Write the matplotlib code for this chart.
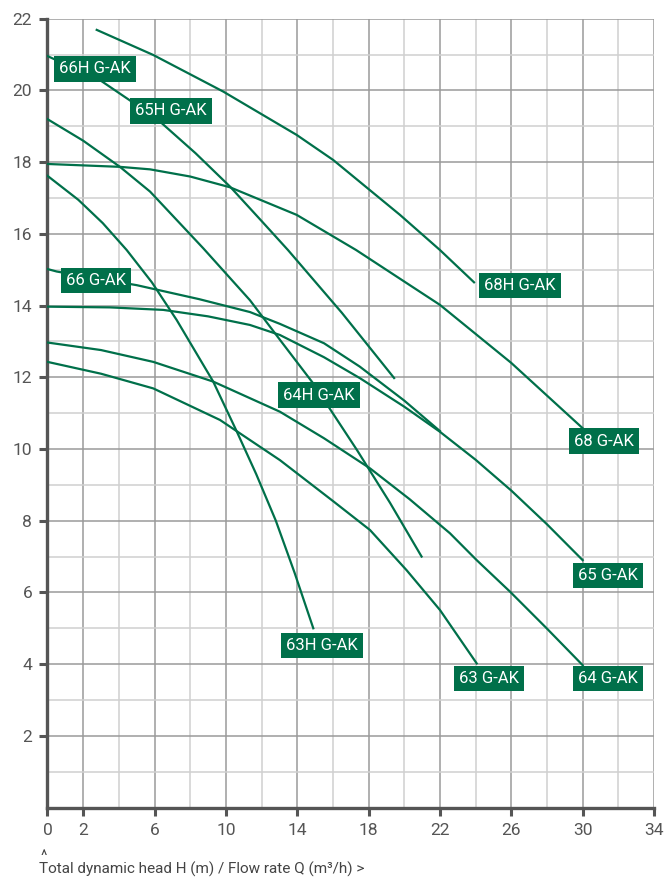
import matplotlib.pyplot as plt
import numpy as np

# lecture des courbes sur le graphique (Q en m3/h, H en m)
q_68H = [2.76, 5.93, 9.85, 13.97, 16.02, 19.76, 22.0, 23.91]
h_68H = [21.69, 20.99, 19.97, 18.76, 18.06, 16.53, 15.55, 14.65]

q_66H = [0, 2.94, 4.6, 6.31, 8.3, 10.23, 12.0, 13.48, 16.5, 19.43]
h_66H = [20.96, 20.29, 19.73, 19.13, 18.25, 17.32, 16.36, 15.55, 13.8, 11.98]

q_65H = [0, 2.0, 4.06, 5.75, 8.73, 11.35, 13.1, 14.88, 17.35, 19.2, 20.97]
h_65H = [19.2, 18.6, 17.87, 17.18, 15.6, 14.15, 13.0, 11.84, 9.97, 8.5, 7.0]

q_68 = [0, 4.06, 5.75, 8.0, 10.23, 13.97, 17.3, 22.0, 26.0, 30.0]
h_68 = [17.95, 17.87, 17.8, 17.6, 17.3, 16.53, 15.55, 14.02, 12.4, 10.58]

q_66 = [0, 0.52, 5.0, 8.5, 11.35, 13.03, 15.5, 17.5, 20.0, 22.0]
h_66 = [15.02, 14.95, 14.57, 14.18, 13.82, 13.49, 12.95, 12.3, 11.35, 10.5]

q_65 = [0, 3.5, 6.49, 9.0, 11.35, 13.03, 15.5, 17.5, 20.0, 22.0, 24.0, 26.0, 28.0, 30.0]
h_65 = [13.97, 13.95, 13.88, 13.7, 13.46, 13.18, 12.56, 11.98, 11.18, 10.48, 9.7, 8.84, 7.9, 6.9]

q_64 = [0, 3.0, 5.93, 9.29, 13.03, 15.5, 18.08, 20.3, 22.56, 24.06, 25.93, 27.98, 30.0]
h_64 = [12.97, 12.76, 12.43, 11.88, 11.04, 10.3, 9.46, 8.6, 7.65, 6.9, 6.02, 5.0, 3.97]

q_63 = [0, 3.0, 5.93, 9.67, 13.03, 16.0, 18.08, 20.13, 22.0, 24.06]
h_63 = [12.43, 12.1, 11.69, 10.81, 9.69, 8.55, 7.74, 6.62, 5.51, 4.02]

q_63H = [0, 1.73, 3.1, 4.44, 5.85, 7.24, 9.29, 10.6, 11.7, 12.8, 13.85, 14.9]
h_63H = [17.62, 16.95, 16.3, 15.55, 14.65, 13.6, 11.88, 10.5, 9.3, 8.0, 6.55, 5.0]

courbes = [(q_68H, h_68H), (q_66H, h_66H), (q_65H, h_65H), (q_68, h_68),
           (q_66, h_66), (q_65, h_65), (q_64, h_64), (q_63, h_63), (q_63H, h_63H)]

# etiquettes : texte, Q, H
noms = ['66H G-AK', '65H G-AK', '68H G-AK', '66 G-AK', '64H G-AK',
        '68 G-AK', '65 G-AK', '63H G-AK', '63 G-AK', '64 G-AK']
noms_q = [2.66, 6.92, 26.48, 2.72, 15.22, 31.19, 31.42, 15.39, 24.75, 31.42]
noms_h = [20.6, 19.43, 14.56, 14.7, 11.5, 10.22, 6.47, 4.52, 3.6, 3.6]

x_ticks = [0, 2, 6, 10, 14, 18, 22, 26, 30, 34]
y_ticks = [2, 4, 6, 8, 10, 12, 14, 16, 18, 20, 22]

vert = '#00704a'
police = ['Roboto', 'DejaVu Sans']

fig = plt.figure(figsize=(6.65, 8.77), dpi=100)
ax = fig.add_axes([0.0714, 0.0792, 0.9121, 0.8994])

for q, h in courbes:
    ax.plot(q, h, color=vert, linewidth=1.6, zorder=3, solid_joinstyle='round')

for nom, q, h in zip(noms, noms_q, noms_h):
    ax.text(q, h, nom, ha='center', va='center', color='white', fontsize=12,
            family=police, zorder=5,
            bbox=dict(boxstyle='square,pad=0.32', fc=vert, ec='none'))

ax.set_xlim(0, 34)
ax.set_ylim(0, 22)
ax.set_xticks(x_ticks)
ax.set_xticks([4, 8, 12, 16, 20, 24, 28, 32], minor=True)
ax.set_yticks(y_ticks)
ax.set_yticks(np.arange(1, 22, 2), minor=True)
ax.grid(True, which='major', color='#9a9a9a', linewidth=1.1, zorder=0)
ax.grid(True, which='minor', color='#d0d0d0', linewidth=1.1, zorder=0)
ax.set_axisbelow(True)

for s in ['top', 'right']:
    ax.spines[s].set_visible(False)
for s in ['left', 'bottom']:
    ax.spines[s].set_color('#555555')
    ax.spines[s].set_linewidth(2.4)

ax.tick_params(which='major', length=6, width=2.2, color='#555555',
               labelcolor='#555555', labelsize=12.5, pad=5)
ax.tick_params(which='minor', length=0)
for lab in ax.get_xticklabels() + ax.get_yticklabels():
    lab.set_family(police)

fig.text(0.061, 0.019, '^', color='#444444', fontsize=11, family=police)
fig.text(0.058, 0.004, 'Total dynamic head H (m) / Flow rate Q (m³/h) >',
         color='#444444', fontsize=11, family=police)

plt.savefig('out.png', dpi=100)
